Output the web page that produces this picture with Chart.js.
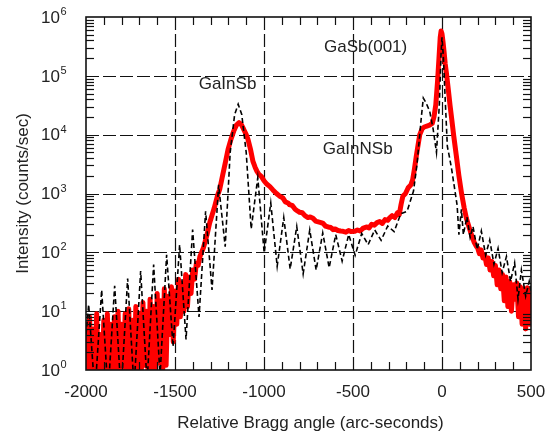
<!DOCTYPE html>
<html>
<head>
<meta charset="utf-8">
<script src="https://cdn.jsdelivr.net/npm/chart.js@4/dist/chart.umd.min.js"></script>
<style>
  html, body { margin: 0; padding: 0; background: #fff; }
  #wrap { width: 547px; height: 434px; position: relative; }
</style>
</head>
<body>
<div id="wrap"><canvas id="c" width="547" height="434"></canvas></div>
<script>
// Axis ticks
const xTickValues = [-2000, -1500, -1000, -500, 0, 500];
const yDecades = [1, 10, 100, 1000, 10000, 100000, 1000000];
const yExponents = ['0', '1', '2', '3', '4', '5', '6'];

// Simulated rocking curve (dashed black)
const simAngle = [
  -2000, -1985, -1950, -1912, -1876, -1839, -1803, -1766, -1730, -1693,
  -1657, -1620, -1584, -1547, -1511, -1474, -1438, -1401, -1365, -1328,
  -1292, -1255, -1218, -1190, -1165, -1145, -1125, -1100, -1072, -1035,
  -999, -962, -926, -889, -853, -816, -780, -743, -707, -670,
  -634, -597, -561, -524, -488, -451, -415, -378, -342, -305,
  -269, -232, -196, -160, -140, -116, -105, -90, -69, -50,
  -31, -15, -5, 0, 8, 18, 30, 43, 55, 70,
  85, 95, 109, 120, 140, 158, 174, 198, 221, 245,
  268, 292, 315, 338, 362, 385, 408, 427, 446, 470,
  490, 500
];
const simCounts = [
  4, 13, 0.4, 23, 0.4, 27, 0.4, 36, 0.5, 48,
  0.6, 62, 0.8, 91, 2.5, 135, 3.3, 243, 8, 500,
  23, 1400, 125, 5000, 22000, 33000, 22000, 5000, 250, 1860,
  98, 690, 58, 390, 52, 275, 43, 240, 50, 214,
  55, 200, 71, 200, 89, 209, 135, 240, 160, 280,
  225, 450, 500, 1100, 3200, 20000, 42000, 35000, 25000, 12600,
  5000, 32000, 250000, 450000, 200000, 40000, 6300, 4000, 2500, 1260,
  630, 200, 540, 200, 400, 180, 275, 112, 230, 90,
  162, 63, 117, 45, 85, 32, 66, 16, 50, 18,
  32, 22
];

// Measured rocking curve (solid red)
const measAngle = [
  -2000, -1990, -1980, -1970, -1960, -1950, -1940, -1930, -1920, -1910,
  -1900, -1890, -1880, -1870, -1860, -1850, -1840, -1830, -1820, -1810,
  -1800, -1790, -1780, -1770, -1760, -1750, -1740, -1730, -1720, -1710,
  -1700, -1690, -1680, -1670, -1660, -1650, -1640, -1630, -1620, -1610,
  -1600, -1590, -1580, -1570, -1560, -1550, -1540, -1530, -1520, -1510,
  -1500, -1490, -1480, -1470, -1460, -1450, -1440, -1430, -1420, -1410,
  -1400, -1390, -1380, -1370, -1360, -1340, -1320, -1305, -1280, -1260,
  -1249, -1230, -1215, -1202, -1185, -1170, -1155, -1140, -1128, -1115,
  -1100, -1090, -1075, -1062, -1050, -1040, -1028, -1015, -1000, -985,
  -968, -950, -930, -912, -895, -880, -865, -856, -840, -825,
  -810, -800, -785, -770, -753, -740, -725, -710, -695, -680,
  -668, -655, -640, -625, -612, -600, -585, -570, -556, -540,
  -525, -510, -490, -475, -460, -445, -425, -410, -395, -380,
  -365, -350, -335, -320, -305, -294, -280, -265, -250, -240,
  -230, -220, -205, -190, -175, -165, -155, -145, -135, -125,
  -112, -100, -85, -70, -55, -45, -35, -25, -17, -10,
  -5, 0, 6, 12, 18, 25, 35, 45, 55, 65,
  80, 95, 110, 125, 137, 150, 165, 180, 193, 200,
  210, 220, 230, 240, 250, 260, 270, 280, 290, 300,
  310, 320, 330, 340, 350, 360, 370, 380, 390, 400,
  410, 420, 430, 440, 450, 460, 470, 480, 490, 500
];
const measCounts = [
  6, 0.8, 8, 0.6, 5, 1, 9, 0.7, 4, 0.6,
  7, 0.9, 9, 0.6, 6, 1.1, 8, 0.7, 10, 0.8,
  6, 0.6, 9, 1, 11, 0.7, 7, 0.6, 12, 1,
  9, 0.7, 14, 1.2, 10, 0.6, 16, 1, 12, 0.8,
  20, 1.3, 15, 0.7, 24, 1.2, 18, 4, 26, 3,
  22, 6, 35, 8, 30, 10, 42, 12, 38, 20,
  50, 35, 65, 60, 85, 120, 200, 318, 560, 950,
  1170, 2200, 3600, 5600, 8500, 11500, 14500, 16000, 15000, 12500,
  10000, 8300, 5500, 3500, 2800, 2400, 2100, 1950, 1650, 1450,
  1320, 1150, 1000, 900, 850, 720, 690, 645, 620, 540,
  500, 480, 470, 420, 390, 400, 380, 340, 330, 320,
  310, 280, 270, 265, 243, 250, 235, 230, 228, 220,
  235, 225, 228, 240, 230, 255, 270, 260, 300, 290,
  320, 335, 310, 360, 350, 385, 420, 390, 470, 440,
  650, 900, 1000, 1250, 1400, 1700, 2600, 4200, 6500, 10000,
  12500, 13500, 14000, 14500, 15500, 20000, 32000, 80000, 200000, 450000,
  580000, 520000, 370000, 250000, 160000, 110000, 60000, 32000, 18000, 10000,
  4500, 2000, 1000, 560, 380, 280, 200, 150, 126, 120,
  95, 110, 80, 90, 62, 80, 50, 70, 40, 60,
  28, 50, 24, 42, 15, 38, 12, 32, 10, 28,
  16, 30, 8, 26, 6, 24, 5, 25, 6, 20
];

// Peak annotations
const peakNames = ['GaSb(001)', 'GaInSb', 'GaInNSb'];
const peakNameAngle = [-429, -1205, -474];
const peakNameCounts = [310000, 72000, 5600];

const FONT = '"Liberation Sans", Arial, Helvetica, sans-serif';
const TEXT = '#222';

function seg(ctx, x1, y1, x2, y2) {
  ctx.beginPath(); ctx.moveTo(x1, y1); ctx.lineTo(x2, y2); ctx.stroke();
}

const framePlugin = {
  id: 'framePlugin',
  beforeDatasetsDraw(chart) {
    const { ctx, chartArea: a, scales: { x, y } } = chart;
    ctx.save();
    ctx.strokeStyle = '#111';
    ctx.lineWidth = 1.2;
    ctx.setLineDash([13, 4]);
    xTickValues.slice(1, -1).forEach(v => {
      const px = Math.round(x.getPixelForValue(v)) + 0.5;
      seg(ctx, px, a.top, px, a.bottom);
    });
    yDecades.slice(1, -1).forEach(v => {
      const py = Math.round(y.getPixelForValue(v)) + 0.5;
      seg(ctx, a.left, py, a.right, py);
    });
    ctx.restore();
  },
  afterDatasetsDraw(chart) {
    const { ctx, chartArea: a, scales: { x, y } } = chart;
    ctx.save();
    ctx.strokeStyle = '#111';
    ctx.setLineDash([]);
    // minor ticks, pointing inward
    ctx.lineWidth = 1.2;
    const tl = 8;
    for (let v = -1900; v < 500; v += 100) {
      if (v % 500 === 0) continue;
      const px = Math.round(x.getPixelForValue(v)) + 0.5;
      seg(ctx, px, a.bottom, px, a.bottom - tl);
      seg(ctx, px, a.top, px, a.top + tl);
    }
    yDecades.slice(0, -1).forEach(d => {
      for (let m = 2; m <= 9; m++) {
        const py = Math.round(y.getPixelForValue(m * d)) + 0.5;
        seg(ctx, a.left, py, a.left + tl, py);
        seg(ctx, a.right, py, a.right - tl, py);
      }
    });
    // frame
    ctx.lineWidth = 1.6;
    ctx.strokeRect(a.left, a.top, a.right - a.left, a.bottom - a.top);

    // y tick labels: 10 with superscript exponent
    ctx.fillStyle = TEXT;
    yDecades.forEach((d, i) => {
      const py = y.getPixelForValue(d);
      ctx.font = '17px ' + FONT;
      ctx.textAlign = 'right';
      ctx.textBaseline = 'middle';
      ctx.fillText('10', a.left - 26, py + 1);
      ctx.font = '11px ' + FONT;
      ctx.textAlign = 'left';
      ctx.fillText(yExponents[i], a.left - 25.5, py - 5);
    });

    // axis titles
    ctx.font = '17px ' + FONT;
    ctx.textAlign = 'center';
    ctx.textBaseline = 'middle';
    ctx.fillText('Relative Bragg angle (arc-seconds)', (a.left + a.right) / 2 + 2, 423);
    ctx.save();
    ctx.translate(23, (a.top + a.bottom) / 2);
    ctx.rotate(-Math.PI / 2);
    ctx.fillText('Intensity (counts/sec)', 0, 0);
    ctx.restore();

    // peak labels
    peakNames.forEach((t, i) => {
      ctx.fillText(t, x.getPixelForValue(peakNameAngle[i]), y.getPixelForValue(peakNameCounts[i]));
    });
    ctx.restore();
  }
};

Chart.defaults.font.family = FONT;
Chart.defaults.color = TEXT;

new Chart(document.getElementById('c').getContext('2d'), {
  type: 'line',
  data: {
    datasets: [
      {
        label: 'Simulation',
        data: simAngle.map((a, i) => ({ x: a, y: simCounts[i] })),
        borderColor: '#000',
        borderWidth: 1.6,
        borderDash: [5, 3],
        pointRadius: 0,
        tension: 0,
        clip: 0,
        order: 0
      },
      {
        label: 'Measured',
        data: measAngle.map((a, i) => ({ x: a, y: measCounts[i] })),
        borderColor: '#ff0000',
        borderWidth: 5,
        borderJoinStyle: 'round',
        borderCapStyle: 'round',
        pointRadius: 0,
        tension: 0,
        clip: 0,
        order: 1
      }
    ]
  },
  options: {
    responsive: false,
    animation: false,
    devicePixelRatio: 1,
    layout: { padding: { left: 0, right: 16, top: 17, bottom: 0 } },
    plugins: { legend: { display: false }, tooltip: { enabled: false } },
    scales: {
      x: {
        type: 'linear',
        min: -2000,
        max: 500,
        afterBuildTicks: s => { s.ticks = xTickValues.map(v => ({ value: v })); },
        afterFit: s => { s.height = 64; s.paddingLeft = 0; s.paddingRight = 0; },
        grid: { display: false, drawTicks: false },
        border: { display: false },
        ticks: {
          padding: 12,
          maxRotation: 0,
          autoSkip: false,
          color: TEXT,
          font: { size: 17, family: FONT },
          callback: v => String(v)
        }
      },
      y: {
        type: 'logarithmic',
        min: 1,
        max: 1000000,
        afterBuildTicks: s => { s.ticks = yDecades.map(v => ({ value: v })); },
        afterFit: s => { s.width = 86; s.paddingTop = 0; s.paddingBottom = 0; },
        grid: { display: false, drawTicks: false },
        border: { display: false },
        ticks: { display: false }
      }
    }
  },
  plugins: [framePlugin]
});
</script>
</body>
</html>
